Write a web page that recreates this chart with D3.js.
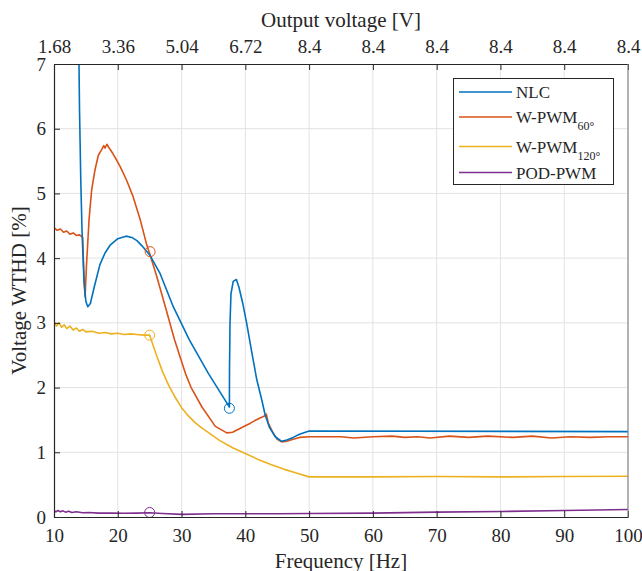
<!DOCTYPE html>
<html><head><meta charset="utf-8">
<script src="https://cdn.jsdelivr.net/npm/d3@7"></script>
<style>body{margin:0;background:#fff}svg{display:block}svg text{font-family:"Liberation Serif","Times New Roman",serif !important;fill:#262626}</style>
</head><body>
<script>
const freqTicks = [10,20,30,40,50,60,70,80,90,100];
const voltTickLabels = ["1.68","3.36","5.04","6.72","8.4","8.4","8.4","8.4","8.4","8.4"];
const yTicks = [0,1,2,3,4,5,6,7];

const nlcF = [13.85,14.0,14.2,14.4,14.7,15.0,15.3,15.7,16.3,17.2,18.0,18.8,20,21.3,22.2,23,23.8,25.07,26.6,28.7,31.2,34.2,36.8,37.5,37.52,37.6,37.75,38.1,38.6,39,39.6,40.2,41,41.8,42.6,43.1,43.8,44.7,45.7,46.5,47.5,48.5,50,100];
const nlcV = [7.6,6.3,5.2,4.4,3.65,3.33,3.25,3.3,3.55,3.9,4.08,4.2,4.3,4.34,4.32,4.27,4.19,4.04,3.77,3.25,2.74,2.22,1.81,1.70,2.3,3.0,3.45,3.64,3.67,3.55,3.3,3.0,2.55,2.12,1.8,1.58,1.38,1.24,1.17,1.19,1.23,1.28,1.33,1.32];

const pwm60F = [10,10.5,11,11.5,12,12.5,13,13.5,14,14.5,14.6,14.75,14.87,15.1,15.5,15.9,16.4,16.95,17.5,17.8,18.0,18.3,18.6,19.2,19.8,20.4,21.4,22.4,23.5,24.5,25.07,26.1,27.6,28.9,30.6,31.5,33.2,35.3,37.1,38,39,40,40.8,41.5,42.3,43.0,43.3,43.6,44.4,45,45.7,46.5,47.5,48.5,50,55,57,60,63,65,67,69,72,75,78,82,85,88,91,94,97,100];
const pwm60V = [4.47,4.43,4.45,4.40,4.42,4.37,4.39,4.35,4.36,4.32,4.0,3.6,3.40,3.9,4.6,5.05,5.35,5.59,5.68,5.74,5.70,5.76,5.71,5.62,5.52,5.41,5.2,4.95,4.6,4.22,4.05,3.72,3.2,2.74,2.22,2.0,1.70,1.40,1.30,1.31,1.36,1.41,1.45,1.49,1.53,1.56,1.59,1.45,1.29,1.2,1.16,1.17,1.2,1.23,1.24,1.24,1.22,1.24,1.25,1.23,1.24,1.22,1.25,1.23,1.25,1.23,1.25,1.22,1.24,1.23,1.24,1.24];

const pwm120F = [10,10.4,10.8,11.2,11.6,12,12.5,13,13.5,14,14.5,15,16,17,18,19,20,21,22,23,24,25,26,27,28,29,30,31,32,33,34,35,36,38,40,42,44,46,48,50,60,70,80,90,100];
const pwm120V = [3.02,2.95,3.0,2.93,2.97,2.91,2.95,2.89,2.92,2.87,2.9,2.86,2.87,2.84,2.85,2.83,2.84,2.82,2.83,2.82,2.81,2.81,2.52,2.25,2.03,1.85,1.69,1.57,1.47,1.39,1.32,1.25,1.18,1.07,0.98,0.89,0.81,0.74,0.68,0.62,0.62,0.625,0.62,0.625,0.63];

const podF = [10,10.3,10.6,11,11.4,11.8,12.3,12.8,13.5,14.5,15.5,17,19,21,23,25,27,30,35,40,45,50,60,70,80,90,100];
const podV = [0.1,0.08,0.1,0.08,0.095,0.075,0.09,0.07,0.08,0.065,0.07,0.06,0.062,0.058,0.06,0.065,0.055,0.04,0.05,0.05,0.05,0.055,0.06,0.075,0.085,0.1,0.115];

const markerF = [37.5,25.07,25,25];
const markerV = [1.68,4.1,2.81,0.07];

const seriesNames = ["NLC","W-PWM","W-PWM","POD-PWM"];
const seriesSubs = ["","60°","120°",""];
const colors = ["#0072BD","#D95319","#EDB120","#7E2F8E"];

const FONT = "'Liberation Serif','Times New Roman',serif";
const W = 642, H = 571;
const svg = d3.select("body").append("svg").attr("width",W).attr("height",H).style("font-family",FONT);
const x = d3.scaleLinear().domain([10,100]).range([54,628]);
const y = d3.scaleLinear().domain([0,7]).range([517,64]);

// grid
const g = svg.append("g");
g.selectAll("line.vg").data(freqTicks.slice(1,-1)).enter().append("line")
  .attr("x1",d=>x(d)).attr("x2",d=>x(d)).attr("y1",y(0)).attr("y2",y(7))
  .attr("stroke","#e3e3e3").attr("stroke-width",1);
g.selectAll("line.hg").data(yTicks.slice(1,-1)).enter().append("line")
  .attr("x1",x(10)).attr("x2",x(100)).attr("y1",d=>y(d)).attr("y2",d=>y(d))
  .attr("stroke","#e3e3e3").attr("stroke-width",1);

svg.append("defs").append("clipPath").attr("id","clip").append("rect")
  .attr("x",x(10)).attr("y",y(7)).attr("width",x(100)-x(10)).attr("height",y(0)-y(7));

const line = d3.line().x(d=>x(d[0])).y(d=>y(d[1]));
const allSeries = [[nlcF,nlcV],[pwm60F,pwm60V],[pwm120F,pwm120V],[podF,podV]];
const plot = svg.append("g").attr("clip-path","url(#clip)");
[3,2,1,0].forEach(i=>{
  const [fs,vs]=allSeries[i];
  plot.append("path").datum(fs.map((f,j)=>[f,vs[j]])).attr("d",line)
    .attr("fill","none").attr("stroke",colors[i]).attr("stroke-width",1.6).attr("stroke-linejoin","round");
});
markerF.forEach((f,i)=>{
  plot.append("circle").attr("cx",x(f)).attr("cy",y(markerV[i])).attr("r",5)
    .attr("fill","none").attr("stroke",colors[i]).attr("stroke-width",1);
});

// axes
const axB = svg.append("g").attr("transform",`translate(0,${y(0)})`)
  .call(d3.axisBottom(x).tickValues(freqTicks).tickFormat(d=>String(d)).tickSizeInner(-6).tickSizeOuter(0).tickPadding(12));
const axL = svg.append("g").attr("transform",`translate(${x(10)},0)`)
  .call(d3.axisLeft(y).tickValues(yTicks).tickFormat(d=>String(d)).tickSizeInner(-6).tickSizeOuter(0).tickPadding(8));
const axT = svg.append("g").attr("transform",`translate(0,${y(7)})`)
  .call(d3.axisTop(x).tickValues(freqTicks).tickFormat((d,i)=>voltTickLabels[i]).tickSizeInner(-6).tickSizeOuter(0).tickPadding(11));
[axB,axL,axT].forEach(a=>{
  a.attr("font-family",null).style("font-family",FONT);
  a.selectAll("path").attr("stroke","#262626").attr("stroke-width",1.2);
  a.selectAll("line").attr("stroke","#262626").attr("stroke-width",1);
  a.selectAll("text").style("font-family",FONT).attr("font-size",19).attr("fill","#262626");
});
axB.selectAll("text").attr("dy","0.71em");
svg.append("line").attr("x1",x(100)).attr("x2",x(100)).attr("y1",y(0)).attr("y2",y(7))
  .attr("stroke","#808080").attr("stroke-width",1.2);

// titles
svg.append("text").attr("x",(x(10)+x(100))/2).attr("y",568).attr("text-anchor","middle")
  .style("font-family",FONT).attr("font-size",21).text("Frequency [Hz]");
svg.append("text").attr("x",(x(10)+x(100))/2).attr("y",27).attr("text-anchor","middle")
  .style("font-family",FONT).attr("font-size",21).text("Output voltage [V]");
svg.append("text").attr("transform",`translate(26,${(y(0)+y(7))/2}) rotate(-90)`).attr("text-anchor","middle")
  .style("font-family",FONT).attr("font-size",21).text("Voltage WTHD [%]");

// legend
const leg = svg.append("g");
leg.append("rect").attr("x",453.5).attr("y",78.5).attr("width",160).attr("height",106)
  .attr("fill","#fff").attr("stroke","#262626").attr("stroke-width",1);
const rowY = [92,117,146.5,172.5];
seriesNames.forEach((n,i)=>{
  leg.append("line").attr("x1",459).attr("x2",512).attr("y1",rowY[i]).attr("y2",rowY[i])
    .attr("stroke",colors[i]).attr("stroke-width",1.6);
  const t = leg.append("text").attr("x",516).attr("y",rowY[i]+6).style("font-family",FONT).attr("font-size",17).text(n);
  if(seriesSubs[i]) t.append("tspan").attr("font-size",12).attr("dy",7).text(seriesSubs[i]);
});
</script>
</body></html>
